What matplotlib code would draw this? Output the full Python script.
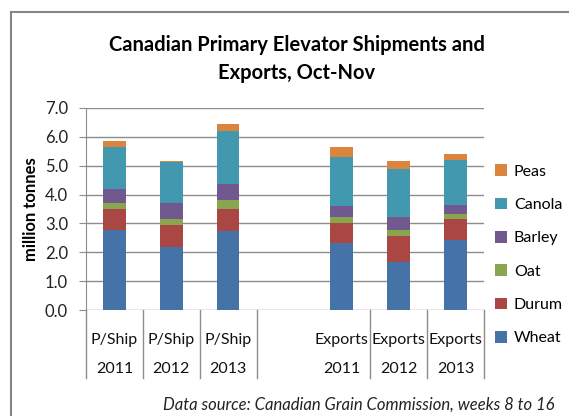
import matplotlib.pyplot as plt
from matplotlib.lines import Line2D
from matplotlib.patches import Patch

# ============================================================
# Data (million tonnes)
# ============================================================

groups = ["P/Ship", "P/Ship", "P/Ship", "Exports", "Exports", "Exports"]
years = ["2011", "2012", "2013", "2011", "2012", "2013"]

wheat = [2.78, 2.20, 2.74, 2.31, 1.68, 2.43]
durum = [0.73, 0.73, 0.77, 0.72, 0.90, 0.74]
oat = [0.19, 0.23, 0.29, 0.18, 0.20, 0.17]
barley = [0.48, 0.54, 0.58, 0.40, 0.43, 0.31]
canola = [1.47, 1.42, 1.84, 1.70, 1.69, 1.54]
peas = [0.19, 0.04, 0.24, 0.34, 0.25, 0.22]

series = [
    ("Wheat", wheat, "#4572A7"),
    ("Durum", durum, "#AA4643"),
    ("Oat", oat, "#89A54E"),
    ("Barley", barley, "#71588F"),
    ("Canola", canola, "#4198AF"),
    ("Peas", peas, "#DB843D"),
]

# empty slot between the two groups
positions = [0, 1, 2, 4, 5, 6]

plt.rcParams["font.family"] = ["Lato", "DejaVu Sans"]

fig = plt.figure(figsize=(5.69, 4.16), dpi=100)
ax = fig.add_axes([0.1511, 0.2548, 0.6995, 0.4856])

bottom = [0.0] * len(positions)
for name, vals, color in series:
    ax.bar(positions, vals, width=0.4, bottom=bottom, color=color,
           label=name, zorder=3)
    bottom = [b + v for b, v in zip(bottom, vals)]

ax.set_xlim(-0.5, 6.5)
ax.set_ylim(0, 7)
ax.set_yticks([0, 1, 2, 3, 4, 5, 6, 7])
ax.set_yticklabels([f"{v:.1f}" for v in range(8)], fontsize=12, color="#222222")
ax.yaxis.grid(True, color="#8c8c8c", lw=1)
ax.set_axisbelow(True)
ax.tick_params(axis="y", direction="out", length=5, pad=8, color="#8c8c8c")
ax.tick_params(axis="x", bottom=False, labelbottom=False)
for s in ["top", "right", "bottom"]:
    ax.spines[s].set_visible(False)
ax.spines["left"].set_color("#8c8c8c")

ax.set_ylabel("million tonnes", fontsize=12, fontweight="bold", labelpad=4)

# category labels and dividers
tr = ax.get_xaxis_transform()
for p, g, y in zip(positions, groups, years):
    ax.text(p, -0.15, g, transform=tr, ha="center", va="center",
            fontsize=11.5, color="#111111")
    ax.text(p, -0.29, y, transform=tr, ha="center", va="center",
            fontsize=11.5, color="#111111")
for d in [-0.5, 0.5, 1.5, 2.5, 4.5, 5.5, 6.5]:
    ax.plot([d, d], [0, -0.337], transform=tr, color="#8c8c8c", lw=1,
            clip_on=False)

# legend
handles = [Patch(facecolor=c, label=n) for n, _, c in series][::-1]
fig.legend(handles=handles, loc="upper left", bbox_to_anchor=(0.858, 0.62),
           frameon=False, fontsize=11.5, handlelength=0.75, handleheight=0.75,
           handletextpad=0.45, labelspacing=1.18, borderaxespad=0)

fig.text(0.522, 0.858, "Canadian Primary Elevator Shipments and\nExports, Oct-Nov",
         ha="center", va="center", fontsize=14.5, fontweight="bold",
         linespacing=1.5)

fig.text(0.975, 0.027, "Data source: Canadian Grain Commission, weeks 8 to 16",
         ha="right", va="center", fontsize=12, style="italic", color="#222222")

# chart frame
fig.add_artist(Line2D([11 / 569, 11 / 569], [0, 1 - 12 / 416],
                      transform=fig.transFigure, color="#868686", lw=1.5))
fig.add_artist(Line2D([11 / 569, 1], [1 - 12 / 416, 1 - 12 / 416],
                      transform=fig.transFigure, color="#868686", lw=1.5))

fig.savefig("out.png", dpi=100)
